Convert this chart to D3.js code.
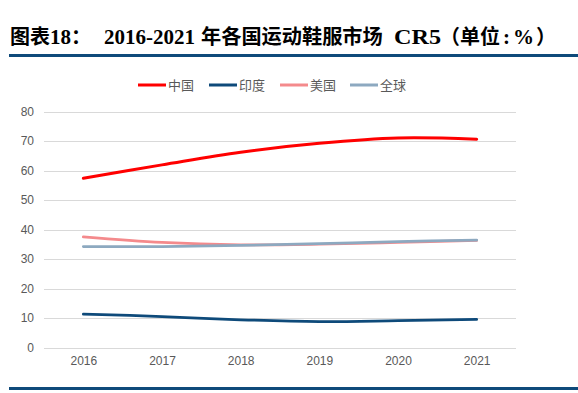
<!DOCTYPE html>
<html><head><meta charset="utf-8">
<script src="https://cdn.jsdelivr.net/npm/d3@7"></script>
<style>
html,body{margin:0;padding:0;background:#fff;}
svg{display:block;}
</style></head>
<body>
<svg id="chart" width="578" height="393"></svg>
<script>
const years = ["2016","2017","2018","2019","2020","2021"];
const seriesNames = ["中国","印度","美国","全球"];
const china = [57.4, 61.9, 66.2, 69.2, 71.0, 70.6];
const india = [11.3, 10.5, 9.4, 8.8, 9.1, 9.5];
const usa = [37.5, 35.6, 34.8, 35.0, 35.6, 36.3];
const world = [34.2, 34.2, 34.6, 35.2, 35.9, 36.4];
const yTicks = [0,10,20,30,40,50,60,70,80];
const colors = ["#ff0000","#0e4a7a","#f48a8c","#8da9c0"];

const svg = d3.select("#chart");
const W = 578, H = 393;

// Title
const cjk = "'Noto Sans CJK SC',sans-serif";
const serif = "'Liberation Serif','Times New Roman',serif";
const titleParts = [
  {t: "图表", x: 10, f: cjk, s: 20},
  {t: "18", x: 50, f: serif, s: 21},
  {t: "：", x: 71, f: cjk, s: 20},
  {t: "2016-2021", x: 104, f: serif, s: 21},
  {t: "年各国运动鞋服市场", x: 201, f: cjk, s: 20.2},
  {t: "CR5", x: 394, f: serif, s: 21, len: 47},
  {t: "（单位", x: 440, f: cjk, s: 20},
  {t: ":", x: 503, f: serif, s: 21},
  {t: "%", x: 513, f: serif, s: 21},
  {t: "）", x: 536, f: cjk, s: 20}
];
const title = svg.append("g");
titleParts.forEach(p => {
  const t = title.append("text").attr("x", p.x).attr("y", 44)
    .attr("font-size", p.s).attr("font-weight", "bold").attr("fill", "#000")
    .attr("font-family", p.f).text(p.t);
  if (p.len) t.attr("textLength", p.len).attr("lengthAdjust", "spacingAndGlyphs");
});

svg.append("rect").attr("x", 9).attr("y", 54).attr("width", W - 9).attr("height", 3).attr("fill", "#0e4a7a");
svg.append("rect").attr("x", 9).attr("y", 387).attr("width", W - 9).attr("height", 3).attr("fill", "#0e4a7a");

const x = d3.scalePoint().domain(years).range([44, 516]).padding(0.5);
const y = d3.scaleLinear().domain([0, 80]).range([347.5, 111.5]);

// grid
svg.append("g").selectAll("line").data(yTicks).join("line")
  .attr("x1", 44).attr("x2", 516)
  .attr("y1", d => Math.round(y(d)) + 0.5).attr("y2", d => Math.round(y(d)) + 0.5)
  .attr("stroke", "#d9d9d9").attr("stroke-width", 1);

const yAxis = svg.append("g").attr("transform", "translate(44,0)")
  .call(d3.axisLeft(y).tickValues(yTicks).tickSize(0).tickPadding(10));
yAxis.select(".domain").remove();
yAxis.selectAll("text").attr("font-size", 12).attr("fill", "#595959")
  .attr("font-family", "'Liberation Sans',Arial,sans-serif");

const xAxis = svg.append("g").attr("transform", "translate(0,347.5)")
  .call(d3.axisBottom(x).tickSize(0).tickPadding(9));
xAxis.select(".domain").remove();
xAxis.selectAll("text").attr("font-size", 12).attr("fill", "#595959")
  .attr("font-family", "'Liberation Sans',Arial,sans-serif");

const data = [china, india, usa, world];
const line = d3.line().x((d, i) => x(years[i])).y(d => y(d)).curve(d3.curveCatmullRom.alpha(0.5));
const order = [1, 2, 3, 0];
order.forEach(k => {
  svg.append("path").datum(data[k]).attr("d", line)
    .attr("fill", "none").attr("stroke", colors[k])
    .attr("stroke-width", k === 0 ? 3 : 2.75).attr("stroke-linecap", "round");
});

// legend
const legX = [138, 209, 280, 350];
const leg = svg.append("g");
seriesNames.forEach((n, i) => {
  leg.append("line").attr("x1", legX[i]).attr("x2", legX[i] + 28)
    .attr("y1", 85).attr("y2", 85).attr("stroke", colors[i]).attr("stroke-width", 3);
  leg.append("text").attr("x", legX[i] + 30).attr("y", 89.5)
    .attr("font-size", 13).attr("fill", "#595959")
    .attr("font-family", "'Noto Sans CJK SC',sans-serif").text(n);
});
</script>
</body></html>
